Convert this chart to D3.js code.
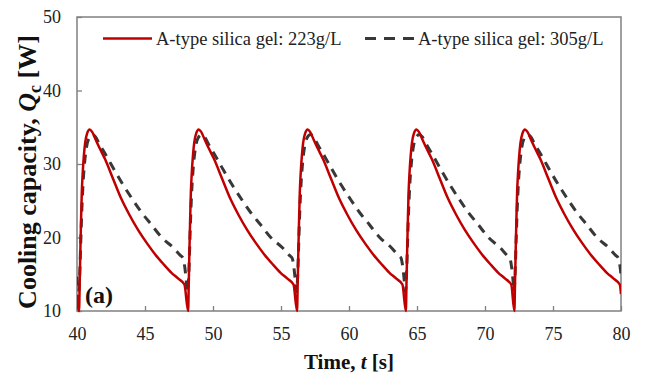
<!DOCTYPE html>
<html>
<head>
<meta charset="utf-8">
<script src="https://cdn.jsdelivr.net/npm/d3@7"></script>
<style>
  html, body { margin: 0; padding: 0; background: #fff; }
  svg { display: block; font-family: "Liberation Serif", "Times New Roman", serif; }
</style>
</head>
<body>
<svg id="chart" width="645" height="377"></svg>
<script>
// ---- Data ----
const seriesNames = ["A-type silica gel: 223g/L", "A-type silica gel: 305g/L"];

const xTicks = [40, 45, 50, 55, 60, 65, 70, 75, 80];
const yTicks = [10, 20, 30, 40, 50];

// 223 g/L (red, solid)
const timeA = [
  40.00,
  40.15, 40.20, 40.25, 40.30, 40.35, 40.42, 40.50, 40.60, 40.75, 40.93, 41.10, 41.35, 41.65, 42.05, 42.65, 43.25, 43.85, 44.50, 45.15, 45.75, 46.35, 46.95, 47.45, 47.90,
  48.17, 48.22, 48.27, 48.32, 48.37, 48.44, 48.52, 48.62, 48.77, 48.95, 49.12, 49.37, 49.67, 50.07, 50.67, 51.27, 51.87, 52.52, 53.17, 53.77, 54.37, 54.97, 55.47, 55.92,
  56.18, 56.23, 56.28, 56.33, 56.38, 56.45, 56.53, 56.63, 56.78, 56.96, 57.13, 57.38, 57.68, 58.08, 58.68, 59.28, 59.88, 60.53, 61.18, 61.78, 62.38, 62.98, 63.48, 63.93,
  64.18, 64.23, 64.28, 64.33, 64.38, 64.45, 64.53, 64.63, 64.78, 64.96, 65.13, 65.38, 65.68, 66.08, 66.68, 67.28, 67.88, 68.53, 69.18, 69.78, 70.38, 70.98, 71.48, 71.93,
  72.16, 72.21, 72.26, 72.31, 72.36, 72.43, 72.51, 72.61, 72.76, 72.94, 73.11, 73.36, 73.66, 74.06, 74.66, 75.26, 75.86, 76.51, 77.16, 77.76, 78.36, 78.96, 79.46, 79.91,
  80.00
];
const qA = [
  12.2,
  10, 14, 18.5, 22.5, 26, 28.8, 31, 32.9, 34.2, 34.7, 34.4, 33.4, 32.2, 30.7, 28.0, 25.3, 23.1, 21.0, 19.2, 17.7, 16.4, 15.2, 14.4, 13.6,
  10, 14, 18.5, 22.5, 26, 28.8, 31, 32.9, 34.2, 34.7, 34.4, 33.4, 32.2, 30.7, 28.0, 25.3, 23.1, 21.0, 19.2, 17.7, 16.4, 15.2, 14.4, 13.6,
  10, 14, 18.5, 22.5, 26, 28.8, 31, 32.9, 34.2, 34.7, 34.4, 33.4, 32.2, 30.7, 28.0, 25.3, 23.1, 21.0, 19.2, 17.7, 16.4, 15.2, 14.4, 13.6,
  10, 14, 18.5, 22.5, 26, 28.8, 31, 32.9, 34.2, 34.7, 34.4, 33.4, 32.2, 30.7, 28.0, 25.3, 23.1, 21.0, 19.2, 17.7, 16.4, 15.2, 14.4, 13.6,
  10, 14, 18.5, 22.5, 26, 28.8, 31, 32.9, 34.2, 34.7, 34.4, 33.4, 32.2, 30.7, 28.0, 25.3, 23.1, 21.0, 19.2, 17.7, 16.4, 15.2, 14.4, 13.6,
  12.3
];

// 305 g/L (dark grey, dashed)
const timeB = [
  40.00,
  40.12, 40.20, 40.27, 40.35, 40.45, 40.55, 40.70, 40.90, 41.15, 41.35, 41.65, 42.19, 42.80, 43.41, 44.15, 44.75, 45.45, 46.23, 47.09, 47.58, 47.80, 47.93, 48.03,
  48.14, 48.22, 48.29, 48.37, 48.47, 48.57, 48.72, 48.92, 49.17, 49.37, 49.67, 50.21, 50.82, 51.43, 52.17, 52.77, 53.47, 54.25, 55.11, 55.60, 55.82, 55.95, 56.05,
  56.15, 56.23, 56.30, 56.38, 56.48, 56.58, 56.73, 56.93, 57.18, 57.38, 57.68, 58.22, 58.83, 59.44, 60.18, 60.78, 61.48, 62.26, 63.12, 63.61, 63.83, 63.96, 64.06,
  64.15, 64.23, 64.30, 64.38, 64.48, 64.58, 64.73, 64.93, 65.18, 65.38, 65.68, 66.22, 66.83, 67.44, 68.18, 68.78, 69.48, 70.26, 71.12, 71.61, 71.83, 71.96, 72.06,
  72.13, 72.21, 72.28, 72.36, 72.46, 72.56, 72.71, 72.91, 73.16, 73.36, 73.66, 74.20, 74.81, 75.42, 76.16, 76.76, 77.46, 78.24, 79.10, 79.59, 79.81, 79.94,
  80.00
];
const qB = [
  14.7,
  12.6, 15, 19, 23.5, 27.5, 30, 32.3, 33.6, 34.0, 33.7, 32.7, 31.0, 29.0, 27.1, 25.0, 23.4, 21.8, 20.0, 18.6, 17.6, 17.2, 15.9, 14.2,
  12.6, 15, 19, 23.5, 27.5, 30, 32.3, 33.6, 34.0, 33.7, 32.7, 31.0, 29.0, 27.1, 25.0, 23.4, 21.8, 20.0, 18.6, 17.6, 17.2, 15.9, 14.2,
  12.6, 15, 19, 23.5, 27.5, 30, 32.3, 33.6, 34.0, 33.7, 32.7, 31.0, 29.0, 27.1, 25.0, 23.4, 21.8, 20.0, 18.6, 17.6, 17.2, 15.9, 14.2,
  12.6, 15, 19, 23.5, 27.5, 30, 32.3, 33.6, 34.0, 33.7, 32.7, 31.0, 29.0, 27.1, 25.0, 23.4, 21.8, 20.0, 18.6, 17.6, 17.2, 15.9, 14.2,
  12.6, 15, 19, 23.5, 27.5, 30, 32.3, 33.6, 34.0, 33.7, 32.7, 31.0, 29.0, 27.1, 25.0, 23.4, 21.8, 20.0, 18.6, 17.6, 17.2, 15.9,
  14.9
];

// ---- Layout ----
const svg = d3.select("#chart");
const margin = { left: 77, right: 24, top: 17, bottom: 66 };
const W = 645, H = 377;
const pw = W - margin.left - margin.right;
const ph = H - margin.top - margin.bottom;

const x = d3.scaleLinear().domain([40, 80]).range([0, pw]);
const y = d3.scaleLinear().domain([10, 50]).range([ph, 0]);

const g = svg.append("g").attr("transform", `translate(${margin.left},${margin.top})`);

svg.append("defs").append("clipPath").attr("id", "clip")
  .append("rect").attr("x", 0).attr("y", -20).attr("width", pw).attr("height", ph + 40);

const axisColor = "#808080";
const serif = '"Liberation Serif", "Times New Roman", serif';

// axes
const xAxis = d3.axisBottom(x).tickValues(xTicks).tickSizeInner(-5).tickSizeOuter(0).tickPadding(16);
const yAxis = d3.axisLeft(y).tickValues(yTicks).tickSizeInner(-5).tickSizeOuter(0).tickPadding(16);

const gx = g.append("g").attr("transform", `translate(0,${ph})`).call(xAxis);
const gy = g.append("g").call(yAxis);
[gx, gy].forEach(a => {
  a.attr("font-family", serif);
  a.select(".domain").remove();
  a.selectAll(".tick line").attr("stroke", axisColor).attr("stroke-width", 1.3);
  a.selectAll(".tick text").attr("fill", "#222").style("font-size", "18px").style("font-family", serif);
});

// frame
g.append("rect").attr("x", 0).attr("y", 0).attr("width", pw).attr("height", ph)
  .attr("fill", "none").attr("stroke", axisColor).attr("stroke-width", 1.5);

// lines
const line = d3.line().x(d => x(d[0])).y(d => y(d[1])).curve(d3.curveMonotoneX);
const dataA = timeA.map((t, i) => [t, qA[i]]);
const dataB = timeB.map((t, i) => [t, qB[i]]);

const lines = g.append("g").attr("clip-path", "url(#clip)");
lines.append("path").datum(dataB).attr("d", line)
  .attr("fill", "none").attr("stroke", "#383838").attr("stroke-width", 3)
  .attr("stroke-dasharray", "9,7");
lines.append("path").datum(dataA).attr("d", line)
  .attr("fill", "none").attr("stroke", "#C00000").attr("stroke-width", 2.5)
  .attr("stroke-linejoin", "round");

// legend
const leg = svg.append("g");
leg.append("line").attr("x1", 103).attr("x2", 152).attr("y1", 38.5).attr("y2", 38.5)
  .attr("stroke", "#C00000").attr("stroke-width", 2.5);
leg.append("text").attr("x", 156).attr("y", 44.5).style("font-size", "18.5px").attr("fill", "#222")
  .text(seriesNames[0]);
leg.append("line").attr("x1", 365).attr("x2", 414).attr("y1", 38.5).attr("y2", 38.5)
  .attr("stroke", "#383838").attr("stroke-width", 3).attr("stroke-dasharray", "11,8");
leg.append("text").attr("x", 418).attr("y", 44.5).style("font-size", "18.5px").attr("fill", "#222")
  .text(seriesNames[1]);

// panel label
svg.append("text").attr("x", 85).attr("y", 303).style("font-size", "24px").style("font-weight", "bold")
  .attr("fill", "#111").text("(a)");

// axis titles
svg.append("text").attr("x", margin.left + pw / 2).attr("y", 369).attr("text-anchor", "middle")
  .style("font-size", "21px").style("font-weight", "bold").attr("fill", "#111")
  .call(t => {
    t.append("tspan").text("Time, ");
    t.append("tspan").style("font-style", "italic").text("t");
    t.append("tspan").text(" [s]");
  });

svg.append("text").attr("transform", `translate(36,172) rotate(-90)`)
  .attr("text-anchor", "middle").style("font-size", "26px").style("font-weight", "bold").attr("fill", "#111")
  .call(t => {
    t.append("tspan").text("Cooling capacity, ");
    t.append("tspan").style("font-style", "italic").text("Q");
    t.append("tspan").attr("dy", 5).style("font-size", "18px").text("c");
    t.append("tspan").attr("dy", -5).text(" [W]");
  });
</script>
</body>
</html>
